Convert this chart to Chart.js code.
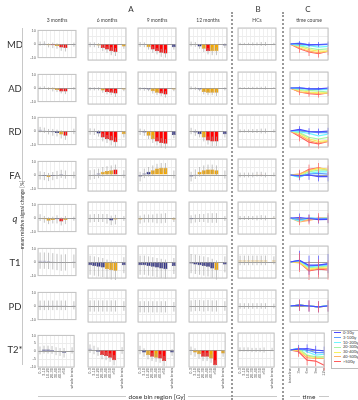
<!DOCTYPE html>
<html>
<head>
<meta charset="utf-8">
<script src="https://cdn.jsdelivr.net/npm/chart.js@4.4.1/dist/chart.umd.min.js"></script>
<style>
  body { margin: 0; background: #fff; }
  #fig { position: relative; width: 358px; height: 400px; overflow: hidden; font-family: Lato, "Open Sans", sans-serif; color: #333; }
  #fig canvas { position: absolute; }
  .txt { position: absolute; white-space: nowrap; transform: translate(-50%, -50%); }
  .hline { position: absolute; height: 1px; background: #c8c8c8; }
  .vline { position: absolute; width: 1px; background: #c8c8c8; }
  .dots { position: absolute; top: 12px; bottom: 0; width: 0; border-left: 2px dotted #9a9a9a; }
  #legend { position: absolute; left: 331px; top: 330px; width: 40px; height: 37px; border: 1px solid #bdbdbd; background: #fff; font-size: 4px; }
  #legend div { height: 4.8px; line-height: 4.8px; white-space: nowrap; margin-left: 2px; }
  #legend span { display: inline-block; width: 7px; height: 1px; vertical-align: middle; margin-right: 2px; }
</style>
</head>
<body>
<div id="fig"></div>
<script>

const rowNames = ['MD', 'AD', 'RD', 'FA', 'q', 'T1', 'PD', 'T2*'];
const panelTitles = ['3 months', '6 months', '9 months', '12 months', 'HCs', 'time course'];
const groupLetters = ['A', 'B', 'C'];
const doseBins = ['0-3', '3-10', '10-20', '20-30', '30-40', '40-50', '>50', '', 'whole brain'];
const timePoints = ['baseline', '3m', '6m', '9m', '12m'];
const doseLegend = ['0-3Gy', '3-10Gy', '10-20Gy', '20-30Gy', '30-40Gy', '40-50Gy', '>50Gy'];

// mean change [%] per dose bin (7 bins + whole brain), panels: 3m, 6m, 9m, 12m, HCs
// sig: 0 = n.s., 1 = p<0.05, 2 = corrected
const meanMD = [
  [0.3, 0.5, -1, -1, -1.5, -2.5, -3, -0.5],
  [-0.5, -0.5, -1, -2.5, -3.5, -4.5, -5, -1.5],
  [-0.3, -0.5, -2, -3.5, -4.5, -5.5, -6, -2],
  [0, -0.3, -1.5, -3, -4.5, -4.5, -4.5, -1],
  [0, 0, 0, 0, 0, 0, 0, 0]
];
const sigMD = [
  [0, 0, 1, 2, 1, 2, 2, 0],
  [0, 0, 1, 2, 2, 2, 2, 1],
  [0, 0, 1, 2, 2, 2, 2, 0],
  [0, 0, 0, 1, 2, 1, 1, 0],
  [0, 0, 0, 0, 0, 0, 0, 0]
];
const sdMD = [1.5, 1.5, 1.5, 2, 2, 2.5, 2.5, 1.5];

const meanAD = [
  [0, 0.3, -0.5, -1, -1.5, -2.5, -2.5, -0.3],
  [-0.5, -0.5, -0.5, -1.5, -2.5, -3, -3.5, -1],
  [-0.5, -0.7, -1, -2, -3, -3.5, -4, -1],
  [0, -0.3, -1, -2.5, -3, -3, -3, -0.5],
  [0, 0, 0, 0, 0, 0, 0, 0]
];
const sigAD = [
  [0, 0, 1, 1, 1, 2, 2, 1],
  [0, 0, 0, 1, 2, 2, 2, 1],
  [0, 0, 0, 1, 1, 2, 2, 1],
  [0, 0, 0, 1, 1, 1, 1, 0],
  [0, 0, 0, 0, 0, 0, 0, 0]
];
const sdAD = [1, 1, 1, 1.5, 1.5, 1.5, 2, 1];

const meanRD = [
  [1, 0.5, -0.5, -1, -1.5, -2.5, -3.5, -0.3],
  [-0.3, -0.5, -1.5, -4, -5, -6, -7, -2],
  [-0.5, -1, -3, -5, -6.5, -7.5, -8, -2.5],
  [0, -1, -2, -4, -6, -6.5, -6.5, -2],
  [0, 0, 0, 0, 0, 0, 0, 0]
];
const sigRD = [
  [0, 0, 0, 0, 0, 1, 2, 0],
  [0, 0, 0, 2, 2, 2, 2, 1],
  [0, 0, 1, 1, 2, 2, 2, 0],
  [0, 0, 0, 1, 2, 2, 2, 0],
  [0, 0, 0, 0, 0, 0, 0, 0]
];
const sdRD = [2, 2, 2, 2.5, 2.5, 3, 3, 2];

const meanFA = [
  [-0.3, -0.8, -1.5, -0.8, 0, 0.8, 0.3, 0],
  [0, 0.5, 1, 2, 2.5, 3, 3.5, 0.5],
  [-1, 1, 2, 3, 4, 4.5, 4.5, 0.3],
  [-1, 0.5, 2, 3, 3.5, 3.5, 3, 0.3],
  [0, 0, 0, 0, 0.5, 0.5, 0, 0.3]
];
const sigFA = [
  [0, 0, 1, 0, 0, 0, 0, 0],
  [0, 0, 0, 1, 1, 1, 2, 0],
  [0, 0, 0, 1, 1, 1, 1, 0],
  [0, 0, 1, 1, 1, 1, 1, 0],
  [0, 0, 0, 0, 1, 2, 0, 1]
];
const sdFA = [3, 3, 3, 3, 3, 3, 3, 2.5];

const meanQ = [
  [0.3, -1, -2, -1.5, -1, -2.5, -1.5, -0.5],
  [-0.3, 0, 0, 0, -0.5, -1.5, -1, -0.3],
  [-1, -0.3, -0.3, -0.3, -0.3, -0.3, 0, -1],
  [-0.8, -0.3, 0, 0, 0, 0, 0, -0.3],
  [0, 0, 0, 0, 0, 0.3, 0, 0.5]
];
const sigQ = [
  [0, 1, 1, 1, 0, 2, 1, 0],
  [0, 0, 0, 0, 0, 0, 1, 0],
  [1, 0, 0, 0, 0, 0, 0, 1],
  [0, 0, 0, 0, 0, 0, 0, 0],
  [0, 0, 0, 0, 0, 1, 0, 1]
];
const sdQ = [2.5, 2.5, 2.5, 2.5, 3, 3, 3, 1.5];

const meanT1 = [
  [1, 1, 0.8, 0.5, 0, -0.5, -0.3, 0.5],
  [-2, -2.5, -3, -3.5, -4.5, -5, -5.5, -2],
  [-2, -2, -2.5, -3, -3.5, -4, -4.5, -2.5],
  [-1, -1.5, -2, -2.5, -3, -4, -5, -1.5],
  [1, 1, 1, 1, 1, 1, 1, 1]
];
const sigT1 = [
  [0, 0, 0, 0, 0, 0, 0, 0],
  [0, 0, 0, 0, 1, 1, 1, 0],
  [0, 0, 0, 0, 0, 0, 0, 0],
  [0, 0, 0, 0, 0, 0, 1, 0],
  [1, 1, 1, 1, 1, 1, 1, 1]
];
const sdT1 = [6, 6, 6, 6, 6, 6, 6, 5];

const meanPD = [
  [0.5, 0.5, 0.5, 0.5, 0.5, 0.5, 0.5, 0.5],
  [0, 0, 0, 0, 0, 0, 0, 0],
  [-0.5, -0.5, -0.5, -0.5, -0.5, -0.5, -0.5, -0.5],
  [0, 0.3, 0.3, 0, 0.3, 0, 0, 0],
  [0, 0, 0, 0, 0, 0, 0, 0]
];
const sigPD = [
  [0, 0, 0, 0, 0, 0, 0, 0],
  [0, 0, 0, 0, 0, 0, 0, 0],
  [0, 0, 0, 0, 0, 0, 0, 0],
  [0, 0, 0, 0, 0, 0, 0, 0],
  [0, 0, 0, 0, 0, 0, 0, 0]
];
const sdPD = [3.5, 3.5, 3.5, 3.5, 3.5, 3.5, 3.5, 3];

const meanT2s = [
  [0.5, 1, 1, 0.8, 0, -0.5, -1, 0.5],
  [0.8, 0, -1, -3, -3.5, -4.5, -6, -0.3],
  [0, -1.5, -3, -4, -4.5, -5, -6.5, -1.5],
  [-0.5, -1.5, -2.5, -4, -4, -5, -9, -2],
  [0.3, 0.3, 0.3, 0, 0, 0, 0, 0.3]
];
const sigT2s = [
  [0, 0, 0, 0, 0, 0, 0, 0],
  [0, 0, 0, 2, 2, 2, 2, 0],
  [0, 0, 1, 2, 1, 2, 2, 0],
  [0, 1, 1, 2, 2, 1, 2, 1],
  [1, 1, 2, 0, 0, 0, 0, 2]
];
const sdT2s = [2.5, 2.5, 2.5, 2.5, 2.5, 2.5, 3, 2];


const rows = [
  { mean: meanMD, sig: sigMD, sd: sdMD },
  { mean: meanAD, sig: sigAD, sd: sdAD },
  { mean: meanRD, sig: sigRD, sd: sdRD },
  { mean: meanFA, sig: sigFA, sd: sdFA },
  { mean: meanQ, sig: sigQ, sd: sdQ },
  { mean: meanT1, sig: sigT1, sd: sdT1 },
  { mean: meanPD, sig: sigPD, sd: sdPD },
  { mean: meanT2s, sig: sigT2s, sd: sdT2s },
];

// layout
const colLeft = [38, 88, 138, 189, 238, 290];
const boxW = 38;
const boxH = 32;
const rowTop = rowNames.map((r, i) => Math.round(28 + i * 43.6));
const sigFill = ['#2e2f86', '#f2a600', '#ff0000'];
const sigEdge = ['#202060', '#d48a00', '#c00000'];
const lineColors = ['#4b4bff', '#5c9dff', '#6ff5ff', '#a6f5a6', '#f6f25e', '#ffb566', '#ff5c5c'];

const fig = document.getElementById('fig');


// slot 7 is the empty gap before "whole brain"
function toSlots(v) {
  return [...v.slice(0, 7), null, v[7]];
}


const errorBars = {
  id: 'errorBars',
  afterDatasetsDraw(chart) {
    const ctx = chart.ctx;
    const y = chart.scales.y;
    chart.data.datasets.forEach((ds, di) => {
      if (!ds.sd) return;
      const meta = chart.getDatasetMeta(di);
      ctx.save();
      ctx.strokeStyle = ds.errColor || '#a8a8a8';
      ctx.lineWidth = 0.7;
      meta.data.forEach((el, i) => {
        const m = ds.data[i];
        const s = ds.sd[i];
        if (m == null || s == null) return;
        const top = y.getPixelForValue(m + s);
        const bot = y.getPixelForValue(m - s);
        ctx.beginPath();
        ctx.moveTo(el.x, top); ctx.lineTo(el.x, bot);
        ctx.stroke();
      });
      ctx.restore();
    });
  }
};

const frame = {
  id: 'frame',
  afterDraw(chart) {
    const a = chart.chartArea;
    const ctx = chart.ctx;
    ctx.save();
    ctx.strokeStyle = '#c2c2c2';
    ctx.lineWidth = 1;
    ctx.strokeRect(a.left, a.top, a.right - a.left, a.bottom - a.top);
    ctx.restore();
  }
};


function scales(col, bottomRow) {
  /*
   * Fixed-size axes so that every plot box lines up.
   */
  return {
    x: {
      ticks: {
        display: bottomRow,
        autoSkip: false,
        minRotation: 90,
        maxRotation: 90,
        padding: 1,
        color: '#555',
        font: { size: 4 },
      },
      grid: { color: '#efefef', drawTicks: false },
      border: { display: false },
      afterFit: (s) => { s.height = bottomRow ? 24 : 0; },
    },
    y: {
      min: -10,
      max: 10,
      ticks: {
        display: col === 0,
        stepSize: 5,
        padding: 2,
        color: '#666',
        font: { size: 4 },
      },
      grid: {
        drawTicks: false,
        color: (c) => (c.tick && c.tick.value === 0 ? '#a0a0a0' : '#ececec'),
      },
      border: { display: false },
      afterFit: (s) => { s.width = 12; },
    },
  };
}


function makeCanvas(col, row) {
  const bottomRow = row === rowNames.length - 1;
  const c = document.createElement('canvas');
  const w = boxW + 14;
  const h = boxH + 4 + (bottomRow ? 24 : 0);
  c.width = w;
  c.height = h;
  c.style.left = (colLeft[col] - 12) + 'px';
  c.style.top = (rowTop[row] - 2) + 'px';
  c.style.width = w + 'px';
  c.style.height = h + 'px';
  fig.appendChild(c);
  return c;
}


function drawBarPanel(row, col) {
  const r = rows[row];
  const sig = toSlots(r.sig[col]);
  const hc = col === 4;
  const sd = toSlots(r.sd.map((s) => (hc ? s * 0.5 : s)));
  new Chart(makeCanvas(col, row), {
    type: 'bar',
    data: {
      labels: doseBins,
      datasets: [{
        data: toSlots(r.mean[col]),
        sd: sd,
        backgroundColor: sig.map((s) => sigFill[s || 0]),
        borderColor: sig.map((s) => sigEdge[s || 0]),
        borderWidth: 0.5,
        barPercentage: 1,
        categoryPercentage: 0.95,
      }],
    },
    options: {
      responsive: false,
      animation: false,
      devicePixelRatio: 1,
      layout: { padding: { top: 2, right: 2, bottom: row === rowNames.length - 1 ? 0 : 2 } },
      plugins: { legend: { display: false }, tooltip: { enabled: false } },
      scales: scales(col, row === rowNames.length - 1),
    },
    plugins: [frame, errorBars],
  });
}


function drawTimeCourse(row) {
  /*
   * One line per dose bin: baseline (0) then the 3/6/9/12 month means.
   */
  const r = rows[row];
  const datasets = lineColors.map((color, b) => ({
    data: [0, r.mean[0][b], r.mean[1][b], r.mean[2][b], r.mean[3][b]],
    sd: (b === 0 || b === 6) ? [null, r.sd[b], r.sd[b], r.sd[b], r.sd[b]] : null,
    errColor: color,
    borderColor: color,
    borderWidth: 1.2,
    pointRadius: 0,
    fill: false,
  }));
  new Chart(makeCanvas(5, row), {
    type: 'line',
    data: { labels: timePoints, datasets: datasets },
    options: {
      responsive: false,
      animation: false,
      devicePixelRatio: 1,
      layout: { padding: { top: 2, right: 2, bottom: row === rowNames.length - 1 ? 0 : 2 } },
      plugins: { legend: { display: false }, tooltip: { enabled: false } },
      scales: scales(5, row === rowNames.length - 1),
    },
    plugins: [frame, errorBars],
  });
}


function addText(text, x, y, css) {
  const d = document.createElement('div');
  d.className = 'txt';
  d.textContent = text;
  d.style.left = x + 'px';
  d.style.top = y + 'px';
  Object.assign(d.style, css || {});
  fig.appendChild(d);
  return d;
}


function addLine(cls, x, y, len) {
  const d = document.createElement('div');
  d.className = cls;
  d.style.left = x + 'px';
  d.style.top = y + 'px';
  if (cls === 'hline') d.style.width = len + 'px';
  else d.style.height = len + 'px';
  fig.appendChild(d);
}


function drawLabels() {
  // group letters and panel titles
  addText(groupLetters[0], 131, 9, { fontSize: '8px' });
  addText(groupLetters[1], 258, 9, { fontSize: '8px' });
  addText(groupLetters[2], 308, 9, { fontSize: '8px' });
  panelTitles.forEach((t, i) => addText(t, colLeft[i] + boxW / 2, 20, { fontSize: '5px', color: '#444' }));

  // row names
  rowNames.forEach((n, i) => {
    const d = addText(n, 15, rowTop[i] + 16, { fontSize: '9.5px', color: '#333' });
    if (n === 'q') d.style.fontStyle = 'italic';
  });

  // y axis title with its rule
  addLine('vline', 22, 28, 156);
  addLine('vline', 22, 247, 118);
  addText('mean relative signal change [%]', 22, 215, { fontSize: '5px', transform: 'translate(-50%, -50%) rotate(-90deg)' });

  // x axis titles with their rules
  addLine('hline', 38, 396, 88);
  addLine('hline', 188, 396, 89);
  addText('dose bin region [Gy]', 157, 396, { fontSize: '6.5px' });
  addLine('hline', 290, 396, 10);
  addLine('hline', 319, 396, 10);
  addText('time', 309, 396, { fontSize: '6.5px' });

  // dotted separators
  [231, 282].forEach((x) => {
    const d = document.createElement('div');
    d.className = 'dots';
    d.style.left = x + 'px';
    fig.appendChild(d);
  });

  // legend of the time course lines
  const lg = document.createElement('div');
  lg.id = 'legend';
  doseLegend.forEach((label, i) => {
    const e = document.createElement('div');
    const sw = document.createElement('span');
    sw.style.background = lineColors[i];
    e.appendChild(sw);
    e.appendChild(document.createTextNode(label));
    lg.appendChild(e);
  });
  fig.appendChild(lg);
}


rowNames.forEach((n, row) => {
  for (let col = 0; col < 5; col++) drawBarPanel(row, col);
  drawTimeCourse(row);
});
drawLabels();

</script>
</body>
</html>
